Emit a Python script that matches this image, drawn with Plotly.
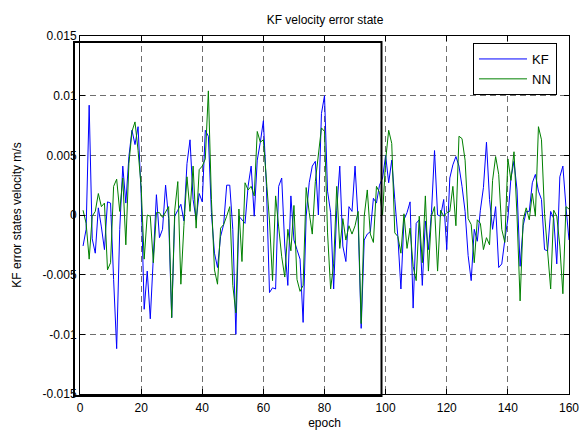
import plotly.graph_objects as go

epochs = list(range(1, 161))

kf = [-2.6, -1.2, 9.2, -2.0, -3.2, 0.6, -1.0, -2.9, 1.1, 1.0,
      -5.4, -11.2, -1.2, 4.1, 1.0, 4.9, 7.1, 5.9, 7.4, 1.8,
      -7.9, -4.7, -8.7, -3.7, 1.7, -1.9, -1.2, 2.5, -0.3, -8.6,
      -0.1, 0.4, 0.9, -0.5, 4.3, 6.3, 1.3, -0.4, 1.8, 1.1,
      7.1, 6.6, 0.2, -3.2, -4.4, -1.8, -0.8, 2.5, 2.5, -1.2,
      -10.0, -0.1, -0.4, -0.7, 2.4, 4.1, -0.1, 4.6, 6.1, 7.9,
      2.4, -6.5, -6.1, -6.2, 2.4, 3.1, -2.6, -5.9, 1.6, -2.1,
      -2.9, -3.7, -9.0, -0.1, 2.7, 4.1, 4.5, 0.0, 8.5, 10.0,
      2.0, 0.2, -6.2, 0.4, 4.1, -2.6, -3.9, 0.7, 0.3, 4.1,
      -0.4, -9.5, -2.1, -1.6, -1.4, 1.4, 1.0, 2.5, 3.1, 5.0,
      2.7, 4.6, 1.3, -1.8, -6.2, -0.4, 0.2, 1.1, -7.8, -0.7,
      -0.4, -5.9, -0.5, -2.9, 0.2, 5.4, 0.0, -0.1, 1.3, -2.9,
      3.1, 4.2, 4.9, 4.1, 2.4, 0.3, -3.4, -5.5, -1.2, -2.2,
      0.4, 2.3, 6.1, 1.3, -1.2, 0.7, -4.4, -4.1, -2.1, -0.3,
      3.1, 4.5, 2.1, -4.3, -0.9, 0.3, 0.3, 2.7, 3.4, 2.0,
      1.3, -2.9, -3.0, 0.3, -0.3, -4.1, 3.2, 4.1, 0.7, -2.1]

nn = [0.4, -0.7, -3.7, -0.1, 0.3, 1.8, 0.7, 1.0, -4.6, -4.0,
      2.4, 3.0, 0.3, 3.1, -2.5, 4.3, 7.0, 7.8, 5.4, 2.4,
      -3.7, 0.0, -0.1, -4.0, 0.2, 0.2, -0.2, 0.2, 0.7, -8.6,
      0.4, 2.8, -5.8, -0.9, 3.2, 0.3, 4.1, -1.1, 3.8, 4.1,
      4.7, 10.4, 1.3, -4.6, -5.8, -1.1, -0.8, -0.1, 0.7, -5.9,
      -8.2, 0.5, -3.9, 2.7, 2.1, 2.4, 1.6, 7.0, 6.1, 6.3,
      3.2, -0.5, -5.5, 1.6, -1.0, -3.5, -5.2, -1.2, -3.0, 0.8,
      -5.4, -6.4, -5.9, 2.3, 0.2, -1.6, 2.8, 4.9, 7.3, 7.0,
      -1.5, -6.2, -4.1, 2.4, -2.8, -0.3, -2.1, -0.9, -1.6, -0.9,
      0.3, -9.1, -0.1, 2.1, -1.6, -2.3, 2.4, 1.9, 0.0, 4.6,
      7.1, 6.0, -1.5, -1.8, -3.2, 0.1, -2.8, -1.1, -4.3, -5.5,
      -0.1, -4.0, 1.6, -4.7, -0.1, 0.7, -4.7, 0.4, -0.1, 0.2,
      0.3, 2.4, -0.9, 6.6, 6.4, 4.6, -0.3, -0.8, -4.0, -0.4,
      -0.7, -2.9, -1.9, -2.5, 2.9, 4.9, 3.4, -1.2, -2.3, 4.7,
      2.9, 5.3, -0.1, -7.2, -0.4, 0.6, -0.4, 1.8, -0.1, 7.4,
      6.3, 0.1, -3.0, -6.2, 0.4, -0.1, -2.6, -6.6, 0.7, 0.5]

kf_vals = [v / 1000 for v in kf]
nn_vals = [v / 1000 for v in nn]

x_ticks = [0, 20, 40, 60, 80, 100, 120, 140, 160]
y_ticks = [-0.015, -0.01, -0.005, 0, 0.005, 0.01, 0.015]
y_tick_labels = ["-0.015", "-0.01", "-0.005", "0", "0.005", "0.01", "0.015"]

W, H = 585, 433
ML, MR, MT, MB = 80, 16, 36, 39
pw = W - ML - MR
ph = H - MT - MB

def px_to_paper_x(px):
    return (px - ML) / pw

def px_to_paper_y(py):
    return (H - MB - py) / ph

fig = go.Figure()
fig.add_trace(go.Scatter(x=epochs, y=kf_vals, mode="lines", name="KF",
                         line=dict(color="#0000FF", width=1)))
fig.add_trace(go.Scatter(x=epochs, y=nn_vals, mode="lines", name="NN",
                         line=dict(color="#008000", width=1)))

axis_common = dict(showline=True, linecolor="black", linewidth=1, mirror="ticks",
                   ticks="inside", ticklen=5, tickcolor="black", automargin=False,
                   showgrid=True, gridcolor="#6e6e6e", griddash="6px,4px", gridwidth=1,
                   zeroline=False, tickfont=dict(family="Arial", size=12, color="black"))

fig.update_xaxes(range=[0, 160], tickvals=x_ticks, ticklabelstandoff=3,
                 title=dict(text="epoch", standoff=4,
                            font=dict(family="Arial", size=12, color="black")), **axis_common)
fig.update_yaxes(range=[-0.015, 0.015], tickvals=y_ticks, ticktext=y_tick_labels,
                 title=dict(text="KF error states velocity m/s", standoff=18,
                            font=dict(family="Arial", size=12, color="black")), **axis_common)

# highlight rectangle (decoration)
fig.add_shape(type="rect", xref="paper", yref="paper",
              x0=px_to_paper_x(74), x1=px_to_paper_x(381.5),
              y0=px_to_paper_y(396), y1=px_to_paper_y(42),
              line=dict(color="black", width=2), fillcolor="rgba(0,0,0,0)", layer="above")

fig.update_layout(
    width=W, height=H,
    margin=dict(l=ML, r=MR, t=MT, b=MB),
    paper_bgcolor="white", plot_bgcolor="white",
    title=dict(text="KF velocity error state", x=325 / W,
               xanchor="center", y=1 - 20 / H, yanchor="middle",
               font=dict(family="Arial", size=12, color="black")),
    legend=dict(x=px_to_paper_x(473), y=px_to_paper_y(43), xanchor="left", yanchor="top",
                bordercolor="black", borderwidth=1, bgcolor="white",
                font=dict(family="Arial", size=13, color="black"),
                tracegroupgap=0, itemwidth=48),
    showlegend=True,
)

fig.write_html("out.html")
